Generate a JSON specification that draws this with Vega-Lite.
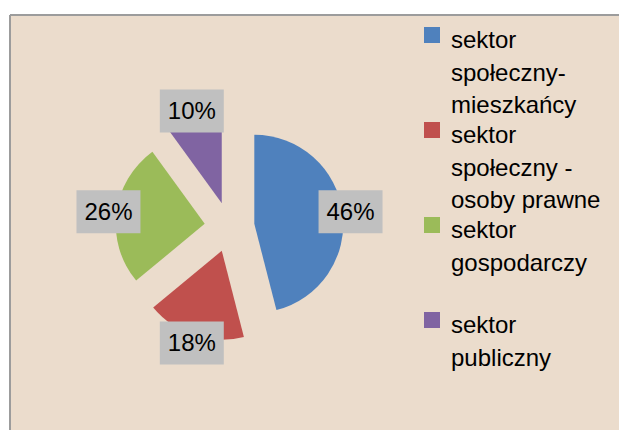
{
  "$schema": "https://vega.github.io/schema/vega-lite/v6.json",
  "width": 609,
  "height": 415,
  "autosize": {"type": "none"},
  "padding": {"left": 10, "top": 15, "right": 0, "bottom": 0},
  "background": "white",
  "data": {
    "values": [
      {"order": 1, "sektor": "sektor społeczny-mieszkańcy", "pct": 0.46},
      {"order": 2, "sektor": "sektor społeczny - osoby prawne", "pct": 0.18},
      {"order": 3, "sektor": "sektor gospodarczy", "pct": 0.26},
      {"order": 4, "sektor": "sektor publiczny", "pct": 0.10}
    ]
  },
  "transform": [
    {"stack": "pct", "groupby": [], "sort": [{"field": "order", "order": "ascending"}], "as": ["t0", "t1"]},
    {"calculate": "(datum.t0 + datum.t1) * PI", "as": "mid"},
    {"calculate": "sin(datum.mid)", "as": "sx"},
    {"calculate": "cos(datum.mid)", "as": "cy"}
  ],
  "layer": [
    {
      "mark": {"type": "arc", "outerRadius": 89},
      "encoding": {
        "theta": {"field": "t0", "type": "quantitative", "stack": null, "scale": {"domain": [0, 1], "range": [0, 6.283185307]}},
        "theta2": {"field": "t1"},
        "x": {"field": "sx", "type": "quantitative", "stack": null, "scale": {"domain": [-1, 1], "range": [194.5, 244.5]}, "axis": null},
        "y": {"field": "cy", "type": "quantitative", "stack": null, "scale": {"domain": [-1, 1], "range": [237, 187]}, "axis": null},
        "color": {
          "field": "sektor", "type": "nominal",
          "scale": {
            "domain": ["sektor społeczny-mieszkańcy", "sektor społeczny - osoby prawne", "sektor gospodarczy", "sektor publiczny"],
            "range": ["#4F81BD", "#C0504D", "#9BBB59", "#8064A2"]
          },
          "legend": {
            "title": null,
            "orient": "none",
            "legendX": 410,
            "legendY": 8,
            "padding": 0,
            "symbolType": "square",
            "symbolSize": 256,
            "symbolStrokeWidth": 0,
            "symbolOpacity": 1,
            "labelFont": "Liberation Sans",
            "labelFontSize": 24,
            "labelColor": "black",
            "labelBaseline": "top",
            "labelOffset": 7,
            "labelLimit": 0,
            "gridAlign": "all",
            "rowPadding": -3,
            "labelExpr": "split(replace(replace(replace(datum.label, 'sektor ', 'sektor|'), '-m', '-|m'), '- o', '-|o'), '|')"
          }
        }
      }
    },
    {
      "mark": {"type": "point", "shape": "M-1.488,-1H1.488V1H-1.488Z", "filled": true, "fill": "#C0C0C0", "opacity": 1, "size": 1849, "strokeWidth": 0},
      "encoding": {
        "x": {"field": "sx", "type": "quantitative", "stack": null, "scale": {"domain": [-1, 1], "range": [97.5, 341.5]}, "axis": null},
        "y": {"field": "cy", "type": "quantitative", "stack": null, "scale": {"domain": [-1, 1], "range": [334, 90]}, "axis": null}
      }
    },
    {
      "mark": {"type": "text", "font": "Liberation Sans", "fontSize": 24, "color": "black", "baseline": "middle", "align": "center", "dy": 1},
      "encoding": {
        "x": {"field": "sx", "type": "quantitative", "stack": null, "scale": {"domain": [-1, 1], "range": [97.5, 341.5]}, "axis": null},
        "y": {"field": "cy", "type": "quantitative", "stack": null, "scale": {"domain": [-1, 1], "range": [334, 90]}, "axis": null},
        "text": {"field": "pct", "type": "quantitative", "format": ".0%"}
      }
    }
  ],
  "resolve": {"scale": {"x": "independent", "y": "independent"}, "axis": {"x": "independent", "y": "independent"}},
  "config": {
    "view": {"fill": "#EBDCCC", "stroke": "#9C9C9C", "strokeWidth": 2, "strokeDash": [609, 1024, 415, 0]},
    "style": {"guide-label": {"lineHeight": 32.5, "dy": -6}}
  }
}
